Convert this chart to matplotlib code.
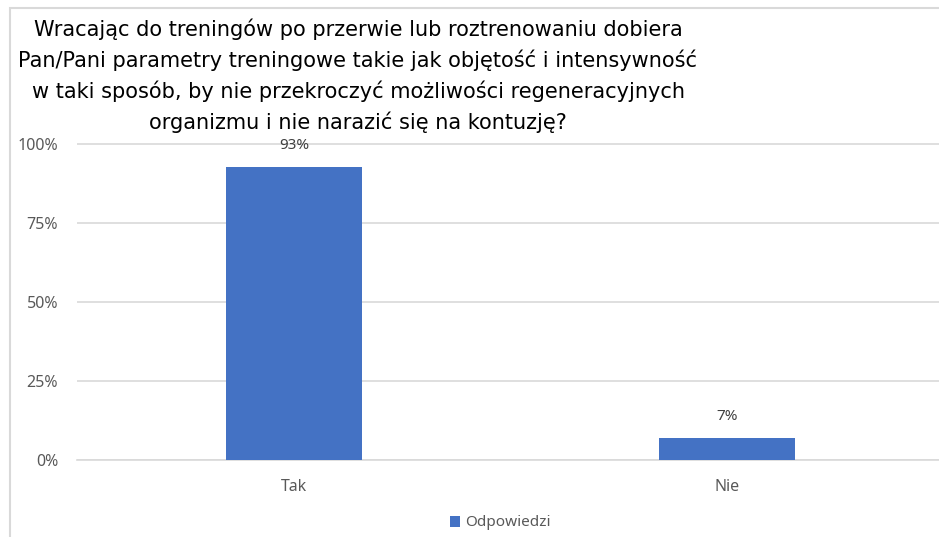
import matplotlib
matplotlib.use('Agg')
import matplotlib.pyplot as plt
from matplotlib.patches import Rectangle
from matplotlib.ticker import PercentFormatter

title = ('Wracając do treningów po przerwie lub roztrenowaniu dobiera\n'
         'Pan/Pani parametry treningowe takie jak objętość i intensywność\n'
         'w taki sposób, by nie przekroczyć możliwości regeneracyjnych\n'
         'organizmu i nie narazić się na kontuzję?')
categories = ['Tak', 'Nie']
values = [93, 7]
series_name = 'Odpowiedzi'
yticks = [0, 25, 50, 75, 100]

blue = '#4472C4'
grid_col = '#d9d9d9'
text_col = '#595959'

fig = plt.figure(figsize=(9.39, 5.37), dpi=100)

# frame around the chart area
fig.patches.append(Rectangle((10 / 939, -0.1), 1.2, 1.1 - 8 / 537,
                             transform=fig.transFigure, fill=False,
                             edgecolor=grid_col, lw=1.5))

ax = fig.add_axes([0.0825, 0.1434, 0.9223, 0.5894])
x = range(len(categories))
bars = ax.bar(x, values, width=0.314, color=blue, zorder=3)
for b, v in zip(bars, values):
    ax.text(b.get_x() + b.get_width() / 2, v + 4.3, '%d%%' % v,
            ha='center', va='bottom', fontsize=11, color='#404040',
            family='Noto Sans')

ax.set_xlim(-0.5, 1.5)
ax.set_ylim(0, 100.3)
ax.set_yticks(yticks)
ax.yaxis.set_major_formatter(PercentFormatter(decimals=0))
ax.set_xticks(list(x))
ax.set_xticklabels(categories)
ax.grid(axis='y', color=grid_col, lw=1.2, zorder=0)
ax.tick_params(axis='y', length=0, pad=14, labelsize=11.5, labelcolor=text_col)
ax.tick_params(axis='x', length=0, pad=14, labelsize=11.5, labelcolor=text_col)
for lab in ax.get_xticklabels() + ax.get_yticklabels():
    lab.set_family('Noto Sans')
for s in ['top', 'right', 'left']:
    ax.spines[s].set_visible(False)
ax.spines['bottom'].set_color(grid_col)
ax.spines['bottom'].set_linewidth(1.2)

fig.text(358 / 939, 1 - 19 / 537, title, ha='center', va='top',
         fontsize=15.0, linespacing=1.53, color='black',
         family='DejaVu Sans')

fig.legend([bars], [series_name], loc='center', bbox_to_anchor=(500 / 939, 1 - 523 / 537),
           frameon=False, handlelength=0.7, handleheight=0.7, handletextpad=0.3,
           prop={'family': 'Noto Sans', 'size': 11}, labelcolor=text_col)

fig.savefig('out.png', dpi=100)
